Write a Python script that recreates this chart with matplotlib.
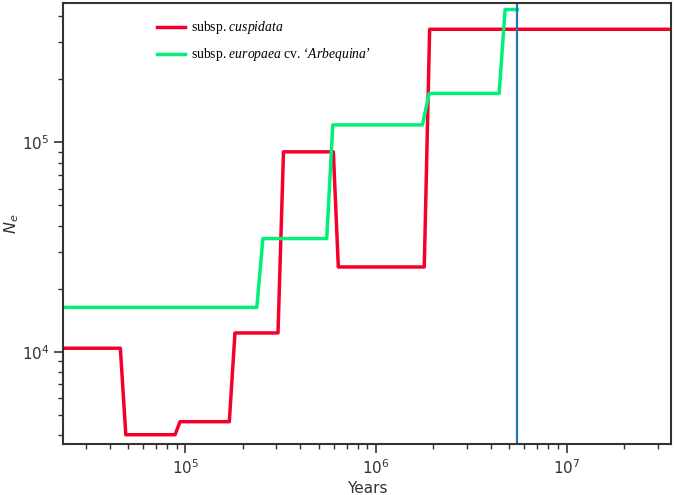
import matplotlib
matplotlib.use("Agg")
import matplotlib.pyplot as plt

plt.rcParams['mathtext.fontset'] = 'custom'
plt.rcParams['mathtext.rm'] = 'Liberation Serif'
plt.rcParams['mathtext.it'] = 'Liberation Serif:italic'
plt.rcParams['mathtext.sf'] = 'DejaVu Sans:italic'

# subsp. cuspidata (red)
red_years = [2.0e4, 4.56e4, 4.87e4, 8.83e4, 9.37e4, 1.70e5, 1.82e5, 3.06e5, 3.27e5,
             5.97e5, 6.34e5, 1.79e6, 1.91e6, 4.0e7]
red_ne = [1.04e4, 1.04e4, 4.02e3, 4.02e3, 4.64e3, 4.64e3, 1.23e4, 1.23e4, 9.0e4,
          9.0e4, 2.54e4, 2.54e4, 3.46e5, 3.46e5]

# subsp. europaea cv. Arbequina (green)
green_years = [2.0e4, 2.37e5, 2.55e5, 5.51e5, 5.93e5, 1.75e6, 1.90e6, 4.42e6, 4.75e6, 5.51e6]
green_ne = [1.63e4, 1.63e4, 3.47e4, 3.47e4, 1.21e5, 1.21e5, 1.71e5, 1.71e5, 4.30e5, 4.30e5]

vline_year = 5.51e6

red_label = r'subsp. $\mathit{cuspidata}$'
green_label = r'subsp. $\mathit{europaea}$ cv. ‘$\mathit{Arbequina}$’'

fig = plt.figure(figsize=(6.75, 4.95), dpi=100)
ax = fig.add_axes([0.0938, 0.103, 0.9002, 0.891])

ax.plot(red_years, red_ne, color='#f5002d', lw=2.5, label=red_label)
ax.plot(green_years, green_ne, color='#00f07a', lw=2.5, label=green_label)
ax.axvline(vline_year, color='#1f77b4', lw=1.6)

ax.set_xscale('log')
ax.set_yscale('log')
ax.set_xlim(2.29e4, 3.52e7)
ax.set_ylim(3.63e3, 4.62e5)

ax.set_xlabel('Years', fontsize=11, color='#333333', labelpad=3)
ax.set_ylabel(r'$\mathsf{N_e}$', fontsize=11.5, color='#333333')
ax.yaxis.set_label_coords(-0.07, 0.5)

for s in ax.spines.values():
    s.set_linewidth(1.5)
    s.set_color('#333333')
ax.tick_params(which='major', length=6.5, width=1.2, labelsize=11, colors='#333333')
ax.tick_params(which='minor', length=3.8, width=1.0, colors='#333333')

leg = ax.legend(loc='upper left', bbox_to_anchor=(0.154, 0.963), frameon=False,
                borderaxespad=0, borderpad=0, handlelength=2.05, handletextpad=0.45,
                labelspacing=0.75, prop={'family': 'Liberation Serif', 'size': 9.8})

fig.savefig('out.png', dpi=100)
